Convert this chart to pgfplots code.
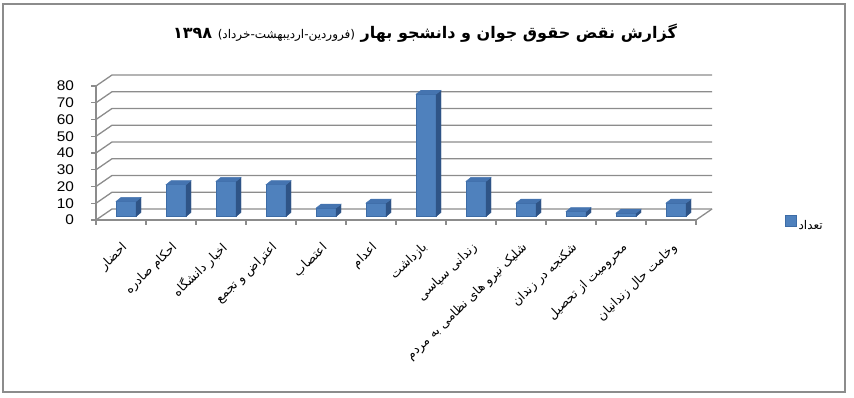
\documentclass[border=0pt]{standalone}
\usepackage{pgfplots}
\pgfplotsset{compat=1.18}
\usepackage{pgfplotstable}
\usepackage{fontspec}
\setmainfont{Liberation Sans}
\newfontfamily\arabicfont[Script=Arabic]{DejaVu Sans}
\TeXXeTstate=1
\definecolor{barfront}{HTML}{4F81BD}
\definecolor{bartop}{HTML}{4574B0}
\definecolor{barside}{HTML}{2F5486}
\definecolor{barline}{HTML}{3D6CA6}
\definecolor{gridc}{HTML}{8C8C8C}
\pgfdeclareplotmark{nothing}{}
\pgfplotstableread{
x v
0 9
1 19
2 21
3 19
4 5
5 8
6 73
7 21
8 8
9 3
10 2
11 8
}\datatable
\begin{document}
\begin{tikzpicture}
\useasboundingbox (0pt,0pt) rectangle (854pt,398pt);
\draw[gridc, line width=2pt] (3pt,6pt) rectangle (845pt,394pt);
\node[font=\arabicfont\bfseries\fontsize{16}{18}\selectfont] at (425pt,365pt) {\beginR گزارش نقض حقوق جوان و دانشجو بهار {\mdseries\fontsize{12}{14}\selectfont (فروردین-اردیبهشت-خرداد)} ۱۳۹۸\endR};
\begin{axis}[
  scale only axis, width=600pt, height=134pt,
  at={(96pt,178pt)}, anchor=south west,
  xmin=-0.5, xmax=11.5, ymin=0, ymax=80,
  clip=false,
  axis x line*=bottom, axis y line*=left,
  axis line style={gridc, line width=1.2pt},
  tick align=outside, major tick length=5pt,
  tick style={gridc, line width=1.2pt},
  ytick={0,10,...,80},
  /pgf/number format/assume math mode=true,
  yticklabel style={font=\fontsize{14}{16}\selectfont, xscale=1.1, xshift=-12pt},
  xtick={-0.5,0.5,...,11.5},
  x tick label as interval,
  xticklabels={
    {\beginR احضار\endR},
    {\beginR احکام صادره\endR},
    {\beginR اخبار دانشگاه\endR},
    {\beginR اعتراض و تجمع\endR},
    {\beginR اعتصاب\endR},
    {\beginR اعدام\endR},
    {\beginR بازداشت\endR},
    {\beginR زندانی سیاسی\endR},
    {\beginR شلیک نیرو های نظامی به مردم\endR},
    {\beginR شکنجه در زندان\endR},
    {\beginR محرومیت از تحصیل\endR},
    {\beginR وخامت حال زندانیان\endR}},
  xticklabel style={xshift=5pt, yshift=-20pt, rotate=44, anchor=east, inner sep=1pt, font=\arabicfont\fontsize{12.5}{14}\selectfont},
  legend style={draw=none, fill=none, at={(rel axis cs:1.143,-0.03)}, anchor=west, font=\arabicfont\fontsize{12}{14}\selectfont},
]
\pgfplotsinvokeforeach{0,10,...,80}{
  \draw[gridc, line width=1.3pt] (axis cs:-0.5,#1) -- ++(16pt,11pt) -- ([shift={(16pt,11pt)}]axis cs:11.5,#1);
}
\draw[gridc, line width=1.3pt] (axis cs:11.5,0) -- ++(16pt,11pt);
\addplot[ybar, bar width=20pt, xshift=5pt, yshift=3.5pt, fill=barfront, draw=barline, line width=0.6pt,
  legend image code/.code={\draw[fill=barfront, draw=barline, line width=0.6pt] (-4pt,-5pt) rectangle (7pt,6pt);}]
  table[x=x,y=v]{\datatable};
\addlegendentry{\beginR تعداد\endR}
\addplot[forget plot, only marks, mark=nothing, scatter, xshift=5pt, yshift=3.5pt,
  visualization depends on={rawy \as \h},
  scatter/@pre marker code/.code={%
    \fill[barside] (10pt,0pt) -- (10pt,-\h*1.675pt) -- ++(5pt,4pt) -- (15pt,4pt) -- cycle;
    \fill[bartop] (-10pt,0pt) -- (10pt,0pt) -- (15pt,4pt) -- (-5pt,4pt) -- cycle;
  },
  scatter/@post marker code/.code={}]
  table[x=x,y=v]{\datatable};
\end{axis}
\end{tikzpicture}
\end{document}
